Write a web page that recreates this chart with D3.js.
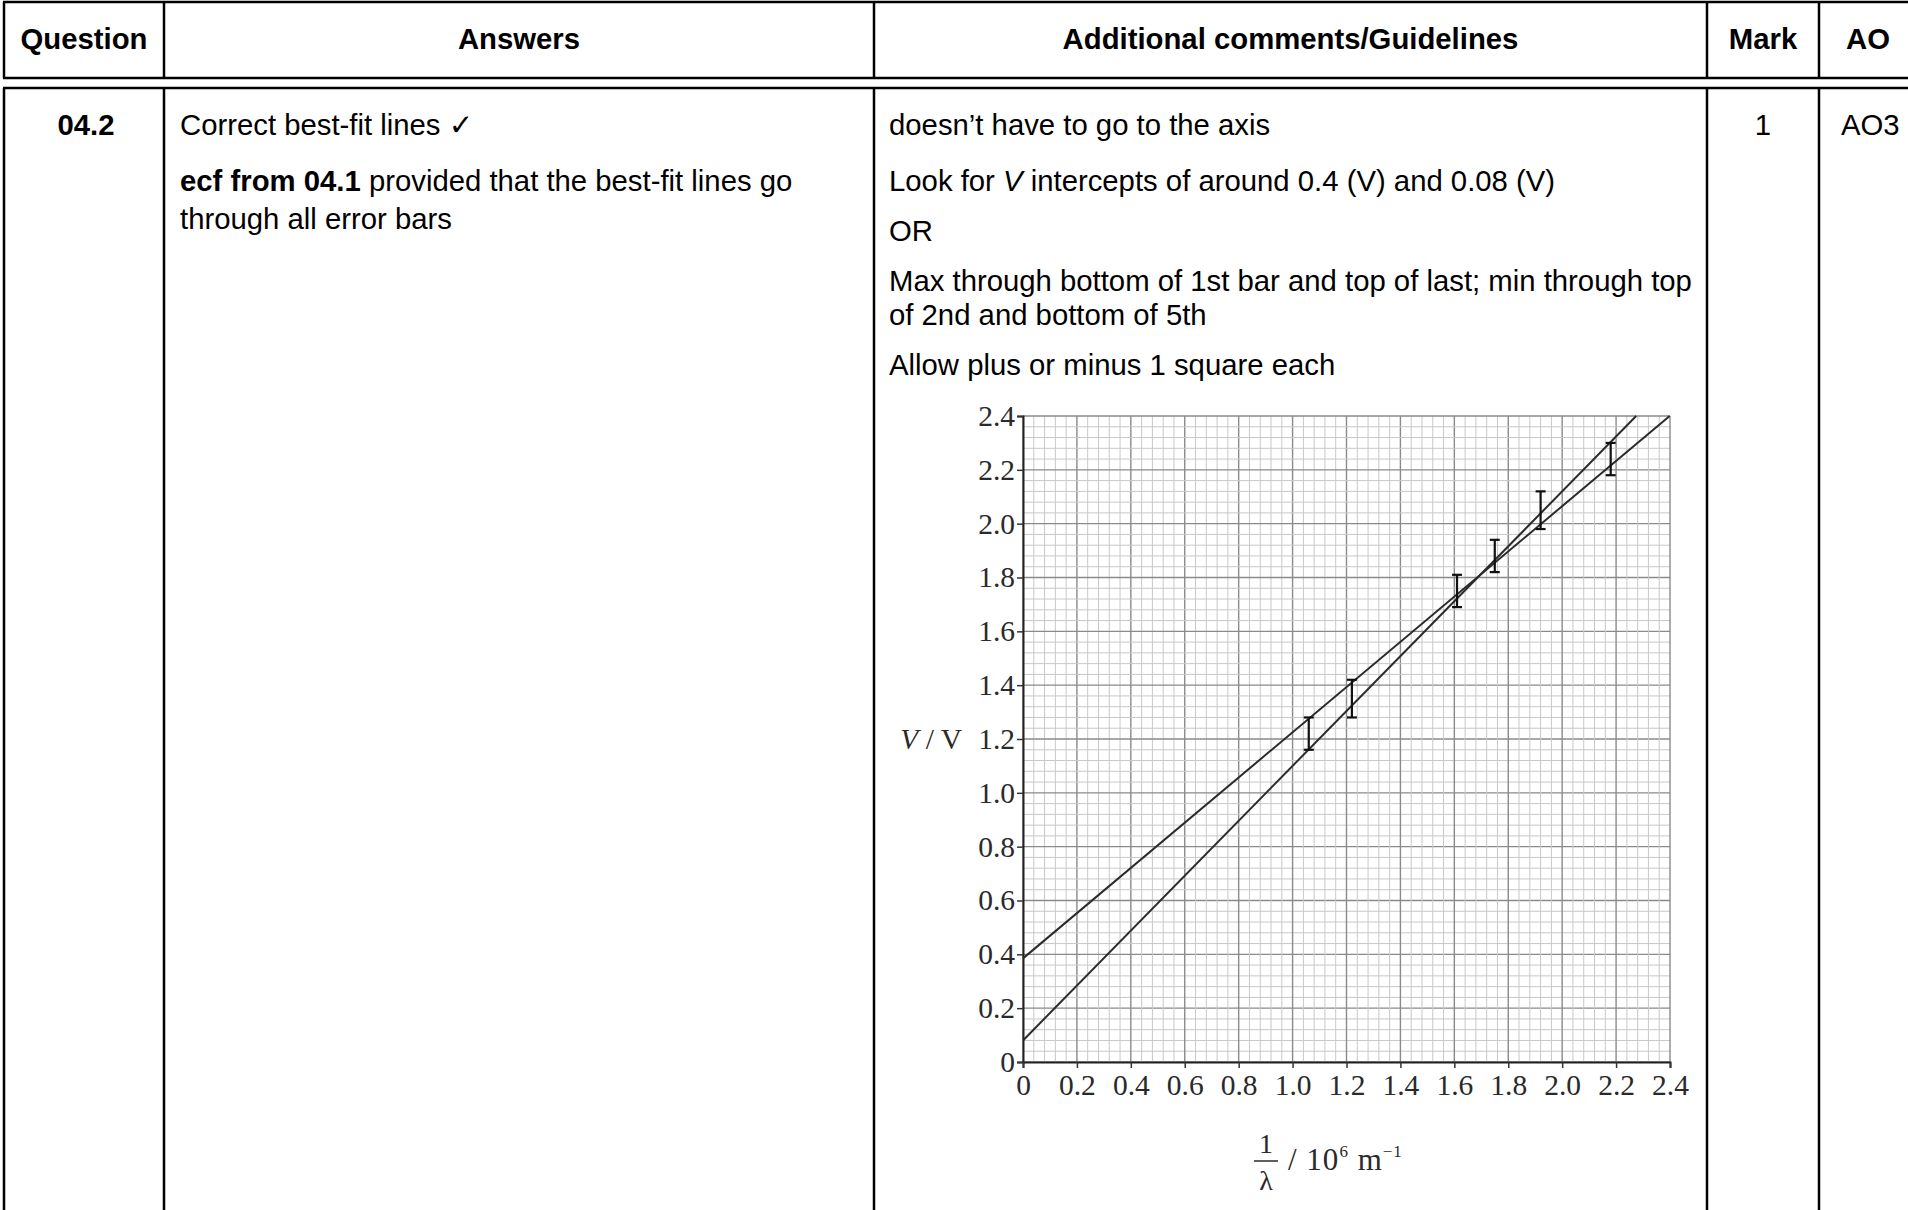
<!DOCTYPE html>
<html>
<head>
<meta charset="utf-8">
<script src="https://cdn.jsdelivr.net/npm/d3@7/dist/d3.min.js"></script>
<style>
  body { margin: 0; background: #fff; }
  svg { display: block; }
</style>
</head>
<body>
<svg id="page" width="1908" height="1210"></svg>
<script>
// table text
var headers = ["Question", "Answers", "Additional comments/Guidelines", "Mark", "AO"];
var questionNo = "04.2";
var markValue = "1";
var aoValue = "AO3";

// chart data: 1/lambda (10^6 m^-1) and V (V) with error bar half-heights
var invLambda = [1.06, 1.22, 1.61, 1.75, 1.92, 2.18];
var voltage   = [1.22, 1.35, 1.75, 1.88, 2.05, 2.24];
var errV      = [0.06, 0.07, 0.06, 0.06, 0.07, 0.06];

// the two best-fit lines (max and min gradient)
var lineNames = ["max", "min"];
var intercepts = [0.08, 0.385];
var slopes = [1.02, 0.84];

var tickVals = d3.range(0, 2.41, 0.2);

var svg = d3.select("#page");
svg.append("rect").attr("width", 1908).attr("height", 1210).attr("fill", "#fff");

var sans = "'Liberation Sans', Arial, 'DejaVu Sans', sans-serif";
var serif = "'Liberation Serif', 'Times New Roman', serif";
var fs = 29.3;

//table borders
var colX = [4, 164, 874, 1707, 1819, 1917];
var headTop = 2, headBottom = 78, bodyTop = 88, bodyBottom = 1214;

function hline(x1, x2, y) {
  svg.append("line").attr("x1", x1).attr("x2", x2).attr("y1", y).attr("y2", y)
    .attr("stroke", "#000").attr("stroke-width", 2.5);
}
function vline(x, y1, y2) {
  svg.append("line").attr("x1", x).attr("x2", x).attr("y1", y1).attr("y2", y2)
    .attr("stroke", "#000").attr("stroke-width", 2.5);
}
hline(colX[0] - 1, colX[5], headTop);
hline(colX[0] - 1, colX[5], headBottom);
hline(colX[0] - 1, colX[5], bodyTop);
for (var i = 0; i < colX.length; i++) {
  vline(colX[i], headTop, headBottom);
  vline(colX[i], bodyTop, bodyBottom);
}

//header
for (var i = 0; i < headers.length; i++) {
  svg.append("text")
    .attr("x", (colX[i] + colX[i + 1]) / 2)
    .attr("y", 49)
    .attr("text-anchor", "middle")
    .attr("font-family", sans)
    .attr("font-size", fs)
    .attr("font-weight", "bold")
    .text(headers[i]);
}

function txt(x, y, anchor) {
  return svg.append("text")
    .attr("x", x).attr("y", y)
    .attr("text-anchor", anchor || "start")
    .attr("font-family", sans)
    .attr("font-size", fs)
    .attr("fill", "#000");
}

txt(86, 135, "middle").attr("font-weight", "bold").text(questionNo);
txt(1763, 135, "middle").text(markValue);
txt(1841, 135).text(aoValue);

// answers column
txt(180, 135).text("Correct best-fit lines \u2713");
var t = txt(180, 191);
t.append("tspan").attr("font-weight", "bold").text("ecf from 04.1");
t.append("tspan").text(" provided that the best-fit lines go");
txt(180, 229).text("through all error bars");

// comments column
txt(889, 135).text("doesn\u2019t have to go to the axis");
t = txt(889, 191);
t.append("tspan").text("Look for ");
t.append("tspan").attr("font-style", "italic").text("V");
t.append("tspan").text(" intercepts of around 0.4 (V) and 0.08 (V)");
txt(889, 241).text("OR");
txt(889, 291).text("Max through bottom of 1st bar and top of last; min through top");
txt(889, 325).text("of 2nd and bottom of 5th");
txt(889, 375).text("Allow plus or minus 1 square each");

//graph
var x = d3.scaleLinear().domain([0, 2.4]).range([1023, 1670]);
var y = d3.scaleLinear().domain([0, 2.4]).range([1062, 416]);

var grid = svg.append("g");
// light 0.04 lines, darker 0.2 lines
var fine = d3.range(0, 61).map(function(d) { return d * 0.04; });
fine.forEach(function(v, k) {
  var col = k % 5 == 0 ? "#8a8a8a" : "#c8c8c8";
  var w = k % 5 == 0 ? 1.4 : 1;
  grid.append("line")
    .attr("x1", x(v)).attr("x2", x(v)).attr("y1", y(0)).attr("y2", y(2.4))
    .attr("stroke", col).attr("stroke-width", w);
  grid.append("line")
    .attr("x1", x(0)).attr("x2", x(2.4)).attr("y1", y(v)).attr("y2", y(v))
    .attr("stroke", col).attr("stroke-width", w);
});

var fmt = function(d) { return d == 0 ? "0" : d3.format(".1f")(d); };

var yAxis = svg.append("g")
  .attr("transform", "translate(" + x(0) + ",0)")
  .call(d3.axisLeft(y).tickValues(tickVals).tickFormat(fmt).tickSize(6).tickPadding(2));
var xAxis = svg.append("g")
  .attr("transform", "translate(0," + y(0) + ")")
  .call(d3.axisBottom(x).tickValues(tickVals).tickFormat(fmt).tickSize(6).tickPadding(2));

[yAxis, xAxis].forEach(function(a) {
  a.select(".domain").attr("stroke", "#222").attr("stroke-width", 2);
  a.selectAll(".tick line").attr("stroke", "#333").attr("stroke-width", 1.5);
  a.selectAll(".tick text")
    .attr("font-family", serif)
    .attr("font-size", 29.5)
    .attr("fill", "#2a2a2a");
});
xAxis.selectAll(".tick text").attr("dy", null).attr("y", 33);

// axis titles
t = svg.append("text")
  .attr("x", 962).attr("y", y(1.2) + 10)
  .attr("text-anchor", "end")
  .attr("font-family", serif).attr("font-size", 29.5).attr("fill", "#2a2a2a");
t.append("tspan").attr("font-style", "italic").text("V");
t.append("tspan").text(" / V");

var fx = 1266;
svg.append("text").attr("x", fx).attr("y", 1153).attr("text-anchor", "middle")
  .attr("font-family", serif).attr("font-size", 28).attr("fill", "#2a2a2a").text("1");
svg.append("line").attr("x1", fx - 12).attr("x2", fx + 12).attr("y1", 1161).attr("y2", 1161)
  .attr("stroke", "#2a2a2a").attr("stroke-width", 1.5);
svg.append("text").attr("x", fx).attr("y", 1190).attr("text-anchor", "middle")
  .attr("font-family", serif).attr("font-size", 28).attr("fill", "#2a2a2a").text("\u03bb");
t = svg.append("text").attr("x", fx + 22).attr("y", 1170)
  .attr("font-family", serif).attr("font-size", 31).attr("fill", "#2a2a2a")
  .attr("letter-spacing", 1);
t.append("tspan").text("/ 10");
t.append("tspan").attr("font-size", 17).attr("dy", -13).text("6");
t.append("tspan").attr("dy", 13).text(" m");
t.append("tspan").attr("font-size", 17).attr("dy", -13).text("\u22121");

// best-fit lines, clipped to the top of the grid
lineNames.forEach(function(name, k) {
  var xEnd = Math.min(2.4, (2.4 - intercepts[k]) / slopes[k]);
  svg.append("line")
    .attr("class", "fit " + name)
    .attr("x1", x(0)).attr("y1", y(intercepts[k]))
    .attr("x2", x(xEnd)).attr("y2", y(intercepts[k] + slopes[k] * xEnd))
    .attr("stroke", "#2b2b2b").attr("stroke-width", 2);
});

// error bars
var bars = svg.append("g").selectAll("g").data(invLambda).enter().append("g");
bars.append("line")
  .attr("x1", function(d) { return x(d); }).attr("x2", function(d) { return x(d); })
  .attr("y1", function(d, i) { return y(voltage[i] + errV[i]); })
  .attr("y2", function(d, i) { return y(voltage[i] - errV[i]); })
  .attr("stroke", "#111").attr("stroke-width", 2.2);
[1, -1].forEach(function(s) {
  bars.append("line")
    .attr("x1", function(d) { return x(d) - 5; }).attr("x2", function(d) { return x(d) + 5; })
    .attr("y1", function(d, i) { return y(voltage[i] + s * errV[i]); })
    .attr("y2", function(d, i) { return y(voltage[i] + s * errV[i]); })
    .attr("stroke", "#111").attr("stroke-width", 2.2);
});
</script>
</body>
</html>
